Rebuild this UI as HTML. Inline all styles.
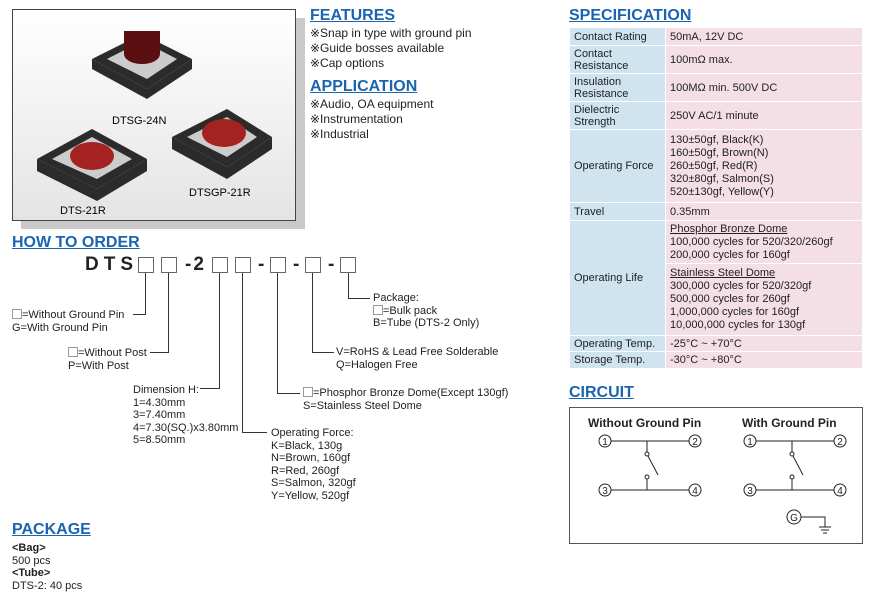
<!DOCTYPE html>
<html><head><meta charset="utf-8"><style>
*{margin:0;padding:0;box-sizing:border-box}
body{width:871px;height:608px;background:#fff;position:relative;font-family:"Liberation Sans",sans-serif;color:#222;overflow:hidden}
.a{position:absolute;white-space:nowrap}
.h{position:absolute;font-weight:bold;font-size:16px;color:#1a64b0;text-decoration:underline;text-underline-offset:1px}
.t{font-size:12px;line-height:15px}
.s{font-size:11px;line-height:12.5px}
.bx{position:absolute;width:16px;height:16px;border:1px solid #666;background:#fff}
.sq{display:inline-block;width:10px;height:10px;border:1px solid #999;vertical-align:-1px}
table{position:absolute;left:569px;top:27px;width:294px;border-collapse:collapse;font-size:11px;line-height:12px}
td{padding:0 4px;border:1px solid #fff;vertical-align:middle}
td.l{background:#cfe4ee;width:96px}
td.r{background:#f3dfe5}
</style></head><body>
<div class="a" style="left:21px;top:18px;width:284px;height:211px;background:#c9c9c9"></div>
<div class="a" style="left:12px;top:9px;width:284px;height:212px;border:1px solid #444;background:linear-gradient(#fff,#e4e4e4)"></div>
<svg class="a" style="left:12px;top:9px" width="284" height="212">
<g fill="#2b2b2b"><polygon points="80,50 130,25 180,50 135,80"/><polygon points="80,50 135,80 135,90 80,60"/><polygon points="135,80 180,50 180,60 135,90"/></g>
<polygon points="95,50 130,32 165,50 135,70" fill="#ccc"/>
<ellipse cx="130" cy="45" rx="18" ry="10" fill="#5a1010"/><rect x="112" y="22" width="36" height="23" fill="#5a1010"/>
<g fill="#2b2b2b"><polygon points="25,150 80,120 135,150 85,180"/><polygon points="25,150 85,180 85,192 25,162"/><polygon points="85,180 135,150 135,162 85,192"/></g>
<polygon points="40,150 80,128 120,150 85,170" fill="#ccc"/><ellipse cx="80" cy="147" rx="22" ry="14" fill="#a52222"/>
<g fill="#2b2b2b"><polygon points="160,128 215,100 260,128 215,158"/><polygon points="160,128 215,158 215,170 160,140"/><polygon points="215,158 260,128 260,140 215,170"/></g>
<polygon points="175,128 215,108 245,128 215,148" fill="#ccc"/><ellipse cx="212" cy="124" rx="22" ry="14" fill="#a52222"/>
<text x="100" y="115" font-size="11" font-family="Liberation Sans">DTSG-24N</text>
<text x="48" y="205" font-size="11" font-family="Liberation Sans">DTS-21R</text>
<text x="177" y="187" font-size="11" font-family="Liberation Sans">DTSGP-21R</text>
</svg>
<div class="h" style="left:310px;top:7px">FEATURES</div>
<div class="a t" style="left:310px;top:26px">※Snap in type with ground pin<br>※Guide bosses available<br>※Cap options</div>
<div class="h" style="left:310px;top:78px">APPLICATION</div>
<div class="a t" style="left:310px;top:97px">※Audio, OA equipment<br>※Instrumentation<br>※Industrial</div>

<div class="h" style="left:569px;top:7px">SPECIFICATION</div>
<table>
<tr style="height:18px"><td class="l">Contact Rating</td><td class="r">50mA, 12V DC</td></tr>
<tr style="height:28px"><td class="l">Contact<br>Resistance</td><td class="r">100mΩ max.</td></tr>
<tr style="height:28px"><td class="l">Insulation<br>Resistance</td><td class="r">100MΩ min. 500V DC</td></tr>
<tr style="height:28px"><td class="l">Dielectric<br>Strength</td><td class="r">250V AC/1 minute</td></tr>
<tr style="height:73px"><td class="l">Operating Force</td><td class="r" style="line-height:13px">130±50gf, Black(K)<br>160±50gf, Brown(N)<br>260±50gf, Red(R)<br>320±80gf, Salmon(S)<br>520±130gf, Yellow(Y)</td></tr>
<tr style="height:18px"><td class="l">Travel</td><td class="r">0.35mm</td></tr>
<tr style="height:43px"><td class="l" rowspan="2">Operating Life</td><td class="r" style="line-height:13px"><u>Phosphor Bronze Dome</u><br>100,000 cycles for 520/320/260gf<br>200,000 cycles for 160gf</td></tr>
<tr style="height:72px"><td class="r" style="line-height:13px"><u>Stainless Steel Dome</u><br>300,000 cycles for 520/320gf<br>500,000 cycles for 260gf<br>1,000,000 cycles for 160gf<br>10,000,000 cycles for 130gf</td></tr>
<tr style="height:16px"><td class="l">Operating Temp.</td><td class="r">-25°C ~ +70°C</td></tr>
<tr style="height:17px"><td class="l">Storage Temp.</td><td class="r">-30°C ~ +80°C</td></tr>
</table>

<div class="h" style="left:12px;top:234px">HOW TO ORDER</div>
<div class="a" style="left:85px;top:254px;font-size:19px;font-weight:bold;letter-spacing:5px">DTS</div>
<div class="bx" style="left:138px;top:257px"></div>
<div class="bx" style="left:161px;top:257px"></div>
<div class="a" style="left:185px;top:254px;font-size:19px;font-weight:bold;letter-spacing:2px">-2</div>
<div class="bx" style="left:212px;top:257px"></div>
<div class="bx" style="left:235px;top:257px"></div>
<div class="a" style="left:258px;top:254px;font-size:19px;font-weight:bold">-</div>
<div class="bx" style="left:270px;top:257px"></div>
<div class="a" style="left:293px;top:254px;font-size:19px;font-weight:bold">-</div>
<div class="bx" style="left:305px;top:257px"></div>
<div class="a" style="left:328px;top:254px;font-size:19px;font-weight:bold">-</div>
<div class="bx" style="left:340px;top:257px"></div>
<svg class="a" style="left:0;top:0" width="560" height="500"><g stroke="#333" fill="none" stroke-width="1">
<polyline points="145.5,273 145.5,314.5 133,314.5"/>
<polyline points="168.5,273 168.5,352.5 150,352.5"/>
<polyline points="219.5,273 219.5,388.5 200,388.5"/>
<polyline points="242.5,273 242.5,432.5 267,432.5"/>
<polyline points="277.5,273 277.5,393.5 300,393.5"/>
<polyline points="312.5,273 312.5,352.5 334,352.5"/>
<polyline points="348.5,273 348.5,298.5 370,298.5"/>
</g></svg>
<div class="a s" style="left:12px;top:309px"><span class="sq"></span>=Without Ground Pin<br>G=With Ground Pin</div>
<div class="a s" style="left:68px;top:347px"><span class="sq"></span>=Without Post<br>P=With Post</div>
<div class="a s" style="left:133px;top:384px">Dimension H:<br>1=4.30mm<br>3=7.40mm<br>4=7.30(SQ.)x3.80mm<br>5=8.50mm</div>
<div class="a s" style="left:271px;top:427px">Operating Force:<br>K=Black, 130g<br>N=Brown, 160gf<br>R=Red, 260gf<br>S=Salmon, 320gf<br>Y=Yellow, 520gf</div>
<div class="a s" style="left:303px;top:387px"><span class="sq"></span>=Phosphor Bronze Dome(Except 130gf)<br>S=Stainless Steel Dome</div>
<div class="a s" style="left:336px;top:346px">V=RoHS &amp; Lead Free Solderable<br>Q=Halogen Free</div>
<div class="a s" style="left:373px;top:292px">Package:<br><span class="sq"></span>=Bulk pack<br>B=Tube (DTS-2 Only)</div>

<div class="h" style="left:12px;top:521px">PACKAGE</div>
<div class="a s" style="left:12px;top:542px"><b>&lt;Bag&gt;</b><br>500 pcs<br><b>&lt;Tube&gt;</b><br>DTS-2: 40 pcs</div>

<div class="h" style="left:569px;top:384px">CIRCUIT</div>
<div class="a" style="left:569px;top:407px;width:294px;height:137px;border:1px solid #555"></div>
<div class="a" style="left:588px;top:416px;font-size:12px;font-weight:bold">Without Ground Pin</div>
<div class="a" style="left:742px;top:416px;font-size:12px;font-weight:bold">With Ground Pin</div>
<svg class="a" style="left:569px;top:407px" width="294" height="137" font-family="Liberation Sans" font-size="10" text-anchor="middle">
<g stroke="#222" fill="none" stroke-width="1">
<g><line x1="41" y1="34" x2="120" y2="34"/><line x1="41" y1="83" x2="120" y2="83"/>
<line x1="78" y1="34" x2="78" y2="45"/><circle cx="78" cy="47" r="2"/><line x1="79" y1="49" x2="89" y2="68"/>
<circle cx="78" cy="70" r="2"/><line x1="78" y1="72" x2="78" y2="83"/>
<circle cx="36" cy="34" r="6" fill="#fff"/><circle cx="126" cy="34" r="6" fill="#fff"/>
<circle cx="36" cy="83" r="6" fill="#fff"/><circle cx="126" cy="83" r="6" fill="#fff"/></g>
<g transform="translate(145,0)"><line x1="41" y1="34" x2="120" y2="34"/><line x1="41" y1="83" x2="120" y2="83"/>
<line x1="78" y1="34" x2="78" y2="45"/><circle cx="78" cy="47" r="2"/><line x1="79" y1="49" x2="89" y2="68"/>
<circle cx="78" cy="70" r="2"/><line x1="78" y1="72" x2="78" y2="83"/>
<circle cx="36" cy="34" r="6" fill="#fff"/><circle cx="126" cy="34" r="6" fill="#fff"/>
<circle cx="36" cy="83" r="6" fill="#fff"/><circle cx="126" cy="83" r="6" fill="#fff"/></g>
<circle cx="225" cy="110" r="7" fill="#fff"/><polyline points="232,110 256,110 256,120"/>
<line x1="250" y1="120" x2="262" y2="120"/><line x1="252" y1="123" x2="260" y2="123"/><line x1="254" y1="126" x2="258" y2="126"/>
</g>
<g fill="#222"><text x="36" y="38">1</text><text x="126" y="38">2</text><text x="36" y="87">3</text><text x="126" y="87">4</text>
<text x="181" y="38">1</text><text x="271" y="38">2</text><text x="181" y="87">3</text><text x="271" y="87">4</text><text x="225" y="114">G</text></g>
</svg>
</body></html>
